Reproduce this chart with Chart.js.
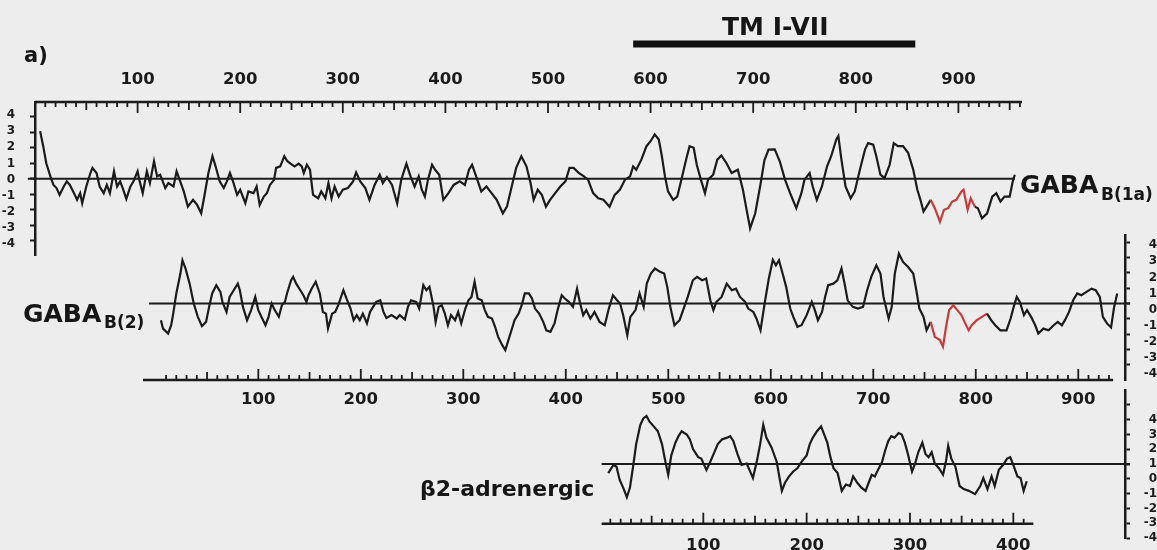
<!DOCTYPE html>
<html>
<head>
<meta charset="utf-8">
<script src="https://cdn.jsdelivr.net/npm/chart.js@4.4.1/dist/chart.umd.min.js"></script>
<style>
  html, body { margin: 0; padding: 0; background: #ededed; }
  #page { position: relative; width: 1157px; height: 550px; overflow: hidden; }
  canvas { position: absolute; left: 0; top: 0; }
  .txt { position: absolute; font-family: 'DejaVu Sans', sans-serif; font-weight: bold; line-height: 1; color: #161616; white-space: nowrap; }
</style>
</head>
<body>
<div id="page">
  <canvas id="gabaB1aChart" width="1157" height="550"></canvas>
  <canvas id="gabaB2Chart" width="1157" height="550"></canvas>
  <canvas id="beta2Chart" width="1157" height="550"></canvas>

  <div class="txt" style="left:24px;top:45px;font-size:21px">a)</div>
  <div class="txt" style="left:722px;top:14px;font-size:25px">TM I-VII</div>
  <div class="txt" style="left:1020px;top:172px;font-size:25px">GABA</div>
  <div class="txt" style="left:1101px;top:186px;font-size:17px">B(1a)</div>
  <div class="txt" style="left:23px;top:301px;font-size:25px">GABA</div>
  <div class="txt" style="left:104px;top:314px;font-size:17px">B(2)</div>
  <div class="txt" style="left:420px;top:478px;font-size:22px">&beta;2-adrenergic</div>
</div>

<script>
// Hydropathy profiles, residue number -> hydropathy index

// GABA-B(1a)
const gabaB1aResidue = [
  5, 8, 11, 15, 18, 21, 24, 28, 31, 34,
  38, 41, 44, 46, 50, 54, 56, 60, 63, 67,
  70, 73, 77, 80, 83, 86, 89, 93, 96, 100,
  102, 105, 109, 112, 116, 119, 122, 127, 130, 135,
  138, 141, 145, 149, 154, 158, 162, 165, 169, 173,
  176, 180, 184, 187, 190, 193, 197, 200, 205, 208,
  213, 216, 219, 223, 226, 229, 233, 235, 239, 243,
  246, 249, 253, 257, 260, 262, 265, 268, 271, 276,
  279, 283, 286, 289, 292, 296, 300, 305, 310, 313,
  317, 322, 326, 331, 336, 339, 343, 348, 353, 357,
  362, 366, 370, 374, 377, 380, 383, 387, 390, 394,
  398, 403, 408, 414, 419, 423, 426, 430, 435, 440,
  445, 450, 456, 460, 465, 469, 474, 479, 483, 486,
  490, 494, 498, 502, 507, 512, 517, 521, 525, 530,
  535, 539, 544, 549, 554, 560, 565, 570, 575, 580,
  583, 586, 591, 596, 600, 604, 608, 611, 614, 617,
  622, 626, 630, 635, 638, 642, 645, 649, 653, 656,
  661, 665, 669, 674, 679, 685, 690, 693, 697, 702,
  707, 711, 715, 721, 726, 731, 736, 742, 747, 750,
  755, 758, 762, 767, 772, 776, 781, 783, 786, 790,
  795, 799, 804, 809, 812, 817, 820, 824, 828, 833,
  837, 841, 846, 851, 856, 860, 863, 866, 869, 873,
  877, 882, 886, 890, 894, 898, 903, 905, 909, 912,
  916, 919, 923, 928, 933, 937, 941, 945, 950, 953,
  955
];
const gabaB1aValue = [
  3.07, 2.1, 1.0, 0.15, -0.4, -0.6, -1.04, -0.5, -0.17, -0.4,
  -0.93, -1.36, -0.93, -1.58, -0.5, 0.37, 0.7, 0.37, -0.5, -0.93,
  -0.4, -0.93, 0.48, -0.5, -0.17, -0.7, -1.3, -0.5, -0.17, 0.48,
  -0.17, -0.93, 0.48, -0.28, 1.13, 0.15, 0.26, -0.6, -0.28, -0.5,
  0.48, -0.07, -0.82, -1.8, -1.36, -1.69, -2.23, -1.15, 0.37, 1.45,
  0.8, -0.17, -0.6, -0.17, 0.37, -0.17, -1.04, -0.71, -1.58, -0.82,
  -0.93, -0.5, -1.69, -1.15, -0.93, -0.4, -0.07, 0.7, 0.8, 1.45,
  1.13, 0.97, 0.8, 0.97, 0.8, 0.37, 0.9, 0.58, -1.04, -1.26,
  -0.82, -1.26, -0.28, -1.26, -0.5, -1.15, -0.71, -0.6, -0.17, 0.41,
  -0.17, -0.6, -1.36, -0.4, 0.26, -0.28, 0.1, -0.4, -1.6, -0.06,
  0.97, 0.15, -0.5, 0.15, -0.71, -1.15, -0.06, 0.9, 0.58, 0.26,
  -1.36, -0.93, -0.4, -0.17, -0.4, 0.58, 0.9, 0.15, -0.82, -0.5,
  -0.93, -1.36, -2.23, -1.8, -0.4, 0.7, 1.45, 0.8, -0.28, -1.36,
  -0.71, -1.04, -1.8, -1.36, -0.93, -0.5, -0.17, 0.7, 0.7, 0.37,
  0.15, -0.06, -0.93, -1.26, -1.36, -1.8, -1.04, -0.71, -0.06, 0.15,
  0.8, 0.58, 1.23, 2.1, 2.42, 2.86, 2.53, 1.45, 0.15, -0.82,
  -1.36, -1.15, -0.06, 1.34, 2.1, 2.0, 0.9, -0.06, -0.93, -0.06,
  0.26, 1.23, 1.5, 1.0, 0.37, 0.58, -0.71, -1.8, -3.2, -2.23,
  -0.4, 1.2, 1.88, 1.9, 1.1, -0.06, -0.93, -1.9, -0.93, -0.06,
  0.37, -0.5, -1.36, -0.5, 0.8, 1.45, 2.53, 2.75, 1.23, -0.5,
  -1.26, -0.82, 0.58, 1.88, 2.3, 2.2, 1.45, 0.26, 0.04, 0.9,
  2.3, 2.1, 2.1, 1.67, 0.58, -0.71, -1.36, -2.12, -1.8, -1.36,
  -1.9, -2.77, -2.0, -1.9, -1.47, -1.36, -0.82, -0.71, -2.0, -1.26,
  -1.8, -1.9, -2.55, -2.23, -1.15, -0.93, -1.47, -1.15, -1.15, -0.17,
  0.26
];

// GABA-B(2)
const gabaB2Residue = [
  5, 7, 12, 15, 17, 20, 24, 26, 29, 33,
  37, 41, 45, 49, 52, 55, 59, 63, 65, 69,
  72, 76, 80, 82, 85, 89, 93, 97, 100, 103,
  107, 110, 113, 116, 120, 123, 126, 128, 132, 134,
  137, 141, 144, 147, 149, 152, 156, 160, 163, 166,
  168, 172, 175, 178, 183, 186, 190, 193, 196, 199,
  202, 206, 209, 212, 215, 219, 222, 225, 230, 235,
  238, 243, 246, 249, 254, 257, 261, 264, 267, 271,
  273, 276, 279, 282, 285, 288, 292, 295, 298, 302,
  305, 308, 311, 314, 318, 321, 324, 328, 331, 334,
  338, 341, 344, 347, 350, 354, 357, 360, 364, 367,
  370, 374, 378, 381, 385, 389, 392, 396, 399, 403,
  407, 411, 414, 417, 420, 424, 428, 433, 438, 442,
  446, 450, 453, 456, 460, 463, 468, 472, 476, 479,
  483, 487, 492, 496, 499, 502, 506, 511, 515, 519,
  524, 528, 533, 537, 541, 544, 547, 552, 557, 562,
  566, 570, 575, 578, 583, 586, 590, 594, 598, 602,
  605, 608, 612, 615, 619, 622, 626, 630, 635, 640,
  643, 646, 650, 653, 656, 661, 665, 669, 672, 675,
  680, 685, 690, 694, 698, 703, 707, 710, 715, 718,
  721, 725, 729, 734, 739, 742, 745, 749, 752, 756,
  760, 765, 768, 771, 774, 778, 782, 786, 789, 793,
  796, 801, 806, 811, 815, 819, 824, 830, 834, 837,
  840, 843, 847, 850, 854, 858, 861, 866, 871, 876,
  880, 884, 887, 891, 895, 899, 903, 908, 913, 917,
  921, 924, 928, 932, 935, 938
];
const gabaB2Value = [
  -1.09, -1.64, -1.96, -1.42, -0.66, 0.66, 1.96, 2.83, 2.29, 1.3,
  0, -0.87, -1.48, -1.2, -0.22, 0.66, 1.2, 0.76, 0.11, -0.55,
  0.43, 0.87, 1.3, 0.87, -0.22, -1.09, -0.43, 0.43, -0.43, -0.87,
  -1.42, -0.87, 0, -0.43, -0.87, -0.11, 0.11, 0.66, 1.52, 1.74,
  1.3, 0.87, 0.54, 0.11, 0.54, 0.97, 1.42, 0.66, -0.55, -0.66,
  -1.64, -0.66, -0.55, -0.11, 0.87, 0.33, -0.33, -1.09, -0.76, -1.09,
  -0.66, -1.3, -0.55, -0.22, 0.11, 0.21, -0.53, -0.95, -0.76, -0.98,
  -0.76, -1.05, -0.22, 0.21, 0.11, -0.33, 1.2, 0.87, 1.09, -0.22,
  -1.2, -0.22, -0.11, -0.66, -1.42, -0.76, -1.09, -0.55, -1.3, -0.33,
  0.21, 0.43, 1.42, 0.33, 0.21, -0.43, -0.87, -0.98, -1.52, -2.18,
  -2.72, -3.05, -2.39, -1.75, -1.09, -0.66, -0.11, 0.66, 0.66, 0.33,
  -0.33, -0.66, -1.2, -1.75, -1.85, -1.3, -0.43, 0.54, 0.33, 0.11,
  -0.22, 0.97, 0, -0.76, -0.43, -0.98, -0.55, -1.2, -1.42, -0.33,
  0.54, 0.21, 0, -0.76, -2.07, -0.87, -0.43, 0.66, -0.22, 1.3,
  1.96, 2.29, 2.07, 1.96, 1.09, -0.22, -1.42, -1.09, -0.33, 0.43,
  1.52, 1.74, 1.52, 1.63, 0.21, -0.43, 0.11, 0.43, 1.3, 0.87,
  0.97, 0.43, 0.11, -0.33, -0.55, -0.98, -1.75, 0, 1.6, 2.86,
  2.5, 2.83, 1.85, 1.09, -0.33, -0.87, -1.52, -1.42, -0.76, 0.11,
  -0.43, -1.09, -0.55, 0.43, 1.2, 1.3, 1.52, 2.29, 1.3, 0.21,
  -0.22, -0.33, -0.22, 0.87, 1.74, 2.5, 1.96, 0.43, -0.98, -0.22,
  1.96, 3.26, 2.72, 2.39, 1.96, 0.87, -0.33, -0.87, -1.75, -1.2,
  -2.18, -2.39, -2.83, -1.52, -0.43, -0.11, -0.43, -0.76, -1.2, -1.75,
  -1.42, -1.09, -0.87, -0.66, -1.09, -1.42, -1.75, -1.75, -0.98, -0.22,
  0.43, 0.11, -0.76, -0.43, -0.87, -1.42, -1.96, -1.64, -1.75, -1.42,
  -1.2, -1.42, -1.09, -0.55, 0.21, 0.66, 0.54, 0.76, 0.97, 0.87,
  0.43, -0.87, -1.3, -1.57, -0.22, 0.66
];

// beta2-adrenergic receptor (read on its own right-hand axis)
const beta2Residue = [
  8, 13, 16, 19, 23, 26, 29, 32, 35, 39,
  42, 45, 48, 52, 56, 60, 63, 66, 69, 73,
  76, 79, 84, 87, 90, 95, 98, 103, 106, 110,
  114, 118, 123, 126, 129, 133, 137, 142, 146, 148,
  152, 155, 158, 161, 166, 171, 176, 179, 183, 187,
  191, 195, 200, 203, 206, 210, 214, 217, 220, 223,
  226, 230, 234, 238, 242, 245, 249, 253, 257, 260,
  263, 266, 269, 273, 276, 279, 282, 285, 289, 292,
  295, 298, 302, 305, 308, 312, 315, 318, 321, 324,
  328, 332, 335, 337, 340, 344, 348, 352, 357, 363,
  368, 371, 375, 379, 382, 386, 390, 394, 397, 400,
  404, 407, 410, 413
];
const beta2Value = [
  0.39, 0.94, 0.82, -0.05, -0.69, -1.24, -0.59, 0.82, 2.35, 3.65,
  4.09, 4.26, 3.87, 3.55, 3.22, 2.35, 1.26, 0.28, 1.59, 2.45,
  2.89, 3.22, 3.0, 2.67, 2.02, 1.47, 1.37, 0.61, 1.04, 1.69,
  2.35, 2.67, 2.79, 2.89, 2.57, 1.69, 0.94, 1.04, 0.39, 0.06,
  1.26, 2.35, 3.65, 2.79, 2.13, 1.16, -0.81, -0.26, 0.17, 0.5,
  0.72, 1.15, 1.59, 2.35, 2.79, 3.22, 3.55, 3.0, 2.45, 1.47,
  0.72, 0.39, -0.81, -0.38, -0.48, 0.17, -0.26, -0.59, -0.81, -0.26,
  0.28, 0.17, 0.61, 1.15, 1.92, 2.57, 2.89, 2.79, 3.1, 3.0,
  2.45, 1.69, 0.5, 1.04, 1.8, 2.45, 1.69, 1.47, 1.8, 1.04,
  0.72, 0.28, 1.26, 2.23, 1.37, 0.82, -0.48, -0.69, -0.81, -1.03,
  -0.48, 0.06, -0.69, 0.17, -0.48, 0.61, 0.94, 1.37, 1.47, 0.94,
  0.17, 0.06, -0.81, -0.16
];

// highlighted stretches (red) and baselines
const gabaB1aRed = [873, 916];
const gabaB2Red = [756, 811];
const gabaB1aBaseline = [-7, 955];
const gabaB2Baseline = [-6.6, 950.6];
const beta2Baseline = [1.6, 513];
const beta2BaselineLevel = 1;

// seven-transmembrane block above GABA-B(1a)
const tmSpan = [583, 858];
const tmLevel = 8.69;

// axis ticks
const hydroTicks = [-4, -3, -2, -1, 0, 1, 2, 3, 4];
const beta2Ticks = [-4, -3, -2, -1, 0, 1, 2, 3, 4, 5];

const ink = '#1b1b1b';
const red = '#c93a3a';
const residueFont = { family: 'DejaVu Sans', weight: 'bold', size: 16.5 };
const indexFont = { family: 'DejaVu Sans', weight: 'bold', size: 12 };

function points(xs, ys) {
  return xs.map((x, i) => ({ x: x, y: ys[i] }));
}

function flat(span, level) {
  return [{ x: span[0], y: level }, { x: span[1], y: level }];
}

function tenths(from, to) {
  const t = [];
  for (let v = from; v <= to; v += 10) t.push({ value: v });
  return t;
}

function profile(xs, ys, redRange) {
  return {
    data: points(xs, ys),
    borderColor: ink,
    borderWidth: 2.2,
    pointRadius: 0,
    tension: 0,
    order: 1,
    segment: {
      borderColor: ctx => (redRange && ctx.p0.parsed.x >= redRange[0] && ctx.p1.parsed.x <= redRange[1]) ? red : undefined
    }
  };
}

function baseline(span, level) {
  return {
    data: flat(span, level),
    borderColor: ink,
    borderWidth: 2,
    pointRadius: 0,
    clip: false,
    order: 2
  };
}

function residueTicks(padding) {
  return {
    autoSkip: false, maxRotation: 0, minRotation: 0, padding: padding,
    color: ink, font: residueFont,
    callback: v => (v % 100 === 0 && v > 0) ? String(v) : ''
  };
}

function indexTicks(padding, crossAlign, hide) {
  return {
    autoSkip: false, padding: padding, crossAlign: crossAlign,
    color: ink, font: indexFont,
    callback: v => v === hide ? '' : String(v)
  };
}

// ruler along the residue axis, with ticks every 10 pointing into the plot
const ruler = {
  id: 'ruler',
  afterDraw(chart, args, opts) {
    const xs = chart.scales.x;
    const area = chart.chartArea;
    const ctx = chart.ctx;
    let y0, dir;
    if (opts.at === 'top') { y0 = area.top; dir = 1; }
    else if (opts.at === 'bottom') { y0 = area.bottom; dir = -1; }
    else { y0 = chart.scales.y.getPixelForValue(opts.at); dir = -1; }

    ctx.save();
    ctx.strokeStyle = ink;
    ctx.lineWidth = 2.4;
    ctx.beginPath();
    ctx.moveTo(xs.getPixelForValue(opts.from), y0);
    ctx.lineTo(xs.getPixelForValue(opts.to), y0);
    ctx.stroke();

    ctx.lineWidth = 1.8;
    xs.ticks.forEach(t => {
      const len = t.value % 100 === 0 ? 11 : (t.value % 50 === 0 ? 8 : 5);
      const px = xs.getPixelForValue(t.value);
      ctx.beginPath();
      ctx.moveTo(px, y0);
      ctx.lineTo(px, y0 + dir * len);
      ctx.stroke();
    });
    ctx.restore();
  }
};

const common = {
  responsive: false,
  maintainAspectRatio: false,
  animation: false,
  events: [],
  plugins: { legend: { display: false }, tooltip: { enabled: false } }
};


// GABA-B(1a): residue axis on top, index axis on the left

new Chart(document.getElementById('gabaB1aChart'), {
  type: 'line',
  data: {
    datasets: [
      profile(gabaB1aResidue, gabaB1aValue, gabaB1aRed),
      baseline(gabaB1aBaseline, 0),
      {
        data: flat(tmSpan, tmLevel),
        borderColor: '#111',
        borderWidth: 7,
        borderCapStyle: 'butt',
        pointRadius: 0,
        clip: false,
        order: 3
      }
    ]
  },
  options: Object.assign({}, common, {
    layout: { padding: { left: 0, top: 0, right: 135, bottom: 295 } },
    plugins: Object.assign({}, common.plugins, { ruler: { at: 'top', from: 0, to: 962 } }),
    scales: {
      x: {
        type: 'linear', position: 'top', bounds: 'data', min: 0, max: 962,
        afterBuildTicks: s => { s.ticks = tenths(10, 960); },
        grid: { display: false }, border: { display: false },
        ticks: residueTicks(4),
        afterFit: s => { s.height = 102; }
      },
      y: {
        type: 'linear', position: 'left', weight: 0, bounds: 'data', min: -4.92, max: 4.95,
        afterBuildTicks: s => { s.ticks = hydroTicks.map(v => ({ value: v })); },
        grid: { drawOnChartArea: false, tickLength: 5, tickWidth: 2, tickColor: ink },
        border: { color: ink, width: 2.5 },
        ticks: { display: false },
        afterFit: s => { s.width = 0; }
      },
      yLabels: {
        type: 'linear', position: 'left', weight: 1, bounds: 'data', min: -4.67, max: 4.80,
        afterBuildTicks: s => { s.ticks = hydroTicks.map(v => ({ value: v })); },
        grid: { display: false }, border: { display: false },
        ticks: indexTicks(12, 'near', null),
        afterFit: s => { s.width = 35; }
      }
    }
  }),
  plugins: [ruler]
});


// GABA-B(2): residue axis below, index axis on the right

new Chart(document.getElementById('gabaB2Chart'), {
  type: 'line',
  data: {
    datasets: [
      profile(gabaB2Residue, gabaB2Value, gabaB2Red),
      baseline(gabaB2Baseline, 0)
    ]
  },
  options: Object.assign({}, common, {
    layout: { padding: { left: 143, top: 235, right: 0, bottom: 0 } },
    plugins: Object.assign({}, common.plugins, { ruler: { at: 'bottom', from: -12.5, to: 934 } }),
    scales: {
      x: {
        type: 'linear', position: 'bottom', bounds: 'data', min: -12.5, max: 945.6,
        afterBuildTicks: s => { s.ticks = tenths(10, 930); },
        grid: { display: false }, border: { display: false },
        ticks: residueTicks(2),
        afterFit: s => { s.height = 170; }
      },
      y: {
        type: 'linear', position: 'right', weight: 0, bounds: 'data', min: -5.0, max: 4.48,
        afterBuildTicks: s => { s.ticks = hydroTicks.map(v => ({ value: v })); },
        grid: { drawOnChartArea: false, tickLength: 5, tickWidth: 2, tickColor: ink },
        border: { color: ink, width: 2.5 },
        ticks: { display: false },
        afterFit: s => { s.width = 0; }
      },
      yLabels: {
        type: 'linear', position: 'right', weight: 1, bounds: 'data', min: -4.39, max: 4.64,
        afterBuildTicks: s => { s.ticks = hydroTicks.map(v => ({ value: v })); },
        grid: { display: false }, border: { display: false },
        ticks: indexTicks(8, 'far', null),
        afterFit: s => { s.width = 32; }
      }
    }
  }),
  plugins: [ruler]
});


// beta2-adrenergic: short residue axis inside the panel, index axis on the right

const beta2RulerLevel = -3.03;

new Chart(document.getElementById('beta2Chart'), {
  type: 'line',
  data: {
    datasets: [
      profile(beta2Residue, beta2Value, null),
      baseline(beta2Baseline, beta2BaselineLevel)
    ]
  },
  options: Object.assign({}, common, {
    layout: { padding: { left: 600, top: 390, right: 0, bottom: 6 } },
    plugins: Object.assign({}, common.plugins, { ruler: { at: beta2RulerLevel, from: 1.6, to: 419.4 } }),
    scales: {
      x: {
        type: 'linear', position: { y: beta2RulerLevel }, bounds: 'data', min: 0, max: 508.1,
        afterBuildTicks: s => { s.ticks = tenths(10, 410); },
        grid: { display: false }, border: { display: false },
        ticks: residueTicks(4),
        afterFit: s => { s.height = 0; }
      },
      y: {
        type: 'linear', position: 'right', bounds: 'data', min: -4.05, max: 6.01,
        afterBuildTicks: s => { s.ticks = beta2Ticks.map(v => ({ value: v })); },
        grid: { drawOnChartArea: false, tickLength: 5, tickWidth: 2, tickColor: ink },
        border: { color: ink, width: 2.5 },
        ticks: indexTicks(4, 'far', 5),
        afterFit: s => { s.width = 32; }
      }
    }
  }),
  plugins: [ruler]
});
</script>
</body>
</html>
